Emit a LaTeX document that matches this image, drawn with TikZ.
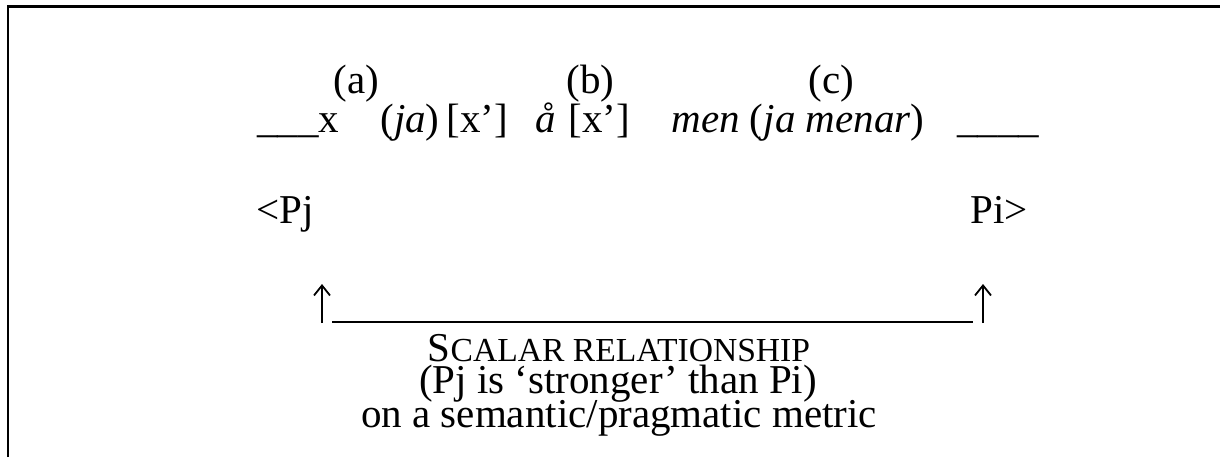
\documentclass[tikz,border=0pt]{standalone}
\usepackage{fontspec}
\setmainfont{Liberation Serif}
\usetikzlibrary{arrows.meta}
\newcommand{\bigfs}{\fontsize{20.5pt}{16pt}\selectfont}
\newcommand{\smallcapfs}{\fontsize{16.8pt}{14pt}\selectfont}
\begin{document}
\begin{tikzpicture}[x=0.5pt,y=-0.5pt,
  txt/.style={inner sep=0pt, anchor=base west, font=\bigfs},
  ctr/.style={inner sep=0pt, anchor=base, font=\bigfs},
  frame/.style={line width=1.25pt},
  uparrow/.style={line width=0.9pt, -{Straight Barb[length=5pt,width=8pt,line width=0.9pt]}},
  baseline rule/.style={line width=0.75pt}]
\useasboundingbox (0,0) rectangle (1220,457);
\draw[frame] (8,457) -- (8,6.5) -- (1220,6.5);
% labels
\node[txt] (la) at (333,93) {(a)};
\node[txt] (lb) at (566,93) {(b)};
\node[txt] (lc) at (808,93) {(c)};
% second line
\node[txt] (t1) at (257,132) {\_\_\_x};
\node[txt] (t2) at (380,132) {(\textit{ja})};
\node[txt] (t3) at (446,132) {[x’]};
\node[txt] (t4) at (535,132) {\textit{å}};
\node[txt] (t5) at (568,132) {[x’]};
\node[txt] (t6) at (671,132) {\textit{men} (\textit{ja menar})};
\node[txt] (t7) at (957,132) {\_\_\_\_};
% Pj Pi
\node[txt] (pj) at (256,223) {<Pj};
\node[txt] (pi) at (970,223) {Pi>};
% scale
\coordinate (lbot) at (322,323);
\coordinate (ltop) at (322,284);
\coordinate (rbot) at (983,323);
\coordinate (rtop) at (983,284);
\coordinate (ul) at (332,322);
\coordinate (ur) at (973,322);
\draw[uparrow] (lbot) -- (ltop);
\draw[uparrow] (rbot) -- (rtop);
\draw[baseline rule] (ul) -- (ur);
% caption
\node[ctr] (s1) at (619,361) {S{\smallcapfs CALAR RELATIONSHIP}};
\node[ctr] (s2) at (618,393) {(Pj is ‘stronger’ than Pi)};
\node[ctr] (s3) at (619,427) {on a semantic/pragmatic metric};
\end{tikzpicture}
\end{document}
